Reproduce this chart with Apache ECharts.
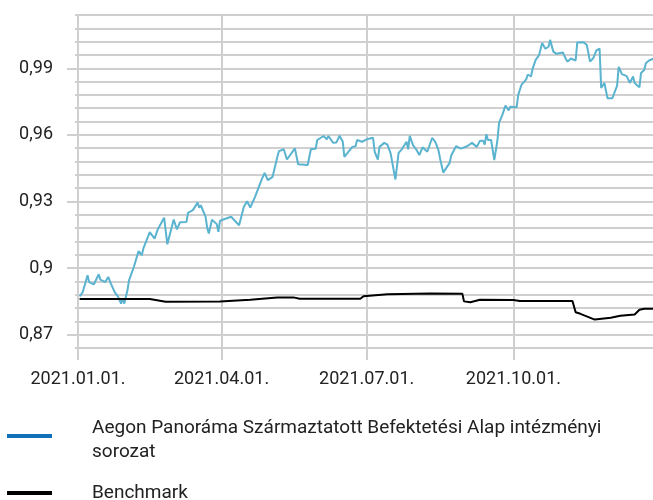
<!DOCTYPE html>
<html>
<head>
<meta charset="utf-8">
<script src="https://cdn.jsdelivr.net/npm/echarts@6/dist/echarts.min.js"></script>
<style>
html, body { margin: 0; padding: 0; background: #fff; }
#chart { width: 653px; height: 500px; }
</style>
</head>
<body>
<div id="chart"></div>
<script>
// Alap árfolyam (kék vonal)
var fundDates = [
  '2021-01-02','2021-01-04','2021-01-07','2021-01-08','2021-01-11','2021-01-14','2021-01-15','2021-01-18','2021-01-20','2021-01-21',
  '2021-01-24','2021-01-26','2021-01-28','2021-01-29','2021-01-30','2021-02-01','2021-02-02','2021-02-05','2021-02-08','2021-02-10',
  '2021-02-11','2021-02-15','2021-02-18','2021-02-20','2021-02-24','2021-02-26','2021-03-02','2021-03-04','2021-03-06','2021-03-10',
  '2021-03-11','2021-03-14','2021-03-17','2021-03-18','2021-03-19','2021-03-22','2021-03-23','2021-03-24','2021-03-26','2021-03-29',
  '2021-03-30','2021-03-31','2021-04-07','2021-04-12','2021-04-15','2021-04-17','2021-04-19','2021-04-22','2021-04-26','2021-04-28',
  '2021-04-30','2021-05-03','2021-05-06','2021-05-07','2021-05-10','2021-05-12','2021-05-17','2021-05-19','2021-05-25','2021-05-27',
  '2021-05-30','2021-05-31','2021-06-01','2021-06-04','2021-06-06','2021-06-07','2021-06-10','2021-06-12','2021-06-14','2021-06-16',
  '2021-06-17','2021-06-18','2021-06-22','2021-06-24','2021-06-25','2021-06-28','2021-07-01','2021-07-05','2021-07-06','2021-07-07',
  '2021-07-08','2021-07-09','2021-07-12','2021-07-14','2021-07-16','2021-07-19','2021-07-21','2021-07-23','2021-07-26','2021-07-27',
  '2021-07-28','2021-07-30','2021-08-01','2021-08-03','2021-08-05','2021-08-08','2021-08-11','2021-08-13','2021-08-15','2021-08-16',
  '2021-08-17','2021-08-18','2021-08-22','2021-08-23','2021-08-26','2021-08-29','2021-09-02','2021-09-05','2021-09-08','2021-09-10',
  '2021-09-12','2021-09-13','2021-09-14','2021-09-15','2021-09-17','2021-09-19','2021-09-21','2021-09-22','2021-09-24','2021-09-26',
  '2021-09-28','2021-09-29','2021-10-03','2021-10-04','2021-10-05','2021-10-06','2021-10-09','2021-10-10','2021-10-12','2021-10-13',
  '2021-10-15','2021-10-17','2021-10-19','2021-10-21','2021-10-23','2021-10-24','2021-10-26','2021-10-28','2021-10-29','2021-11-01',
  '2021-11-03','2021-11-04','2021-11-06','2021-11-07','2021-11-09','2021-11-10','2021-11-14','2021-11-16','2021-11-17','2021-11-18',
  '2021-11-20','2021-11-22','2021-11-24','2021-11-25','2021-11-27','2021-11-28','2021-11-29','2021-11-30','2021-12-02','2021-12-05',
  '2021-12-06','2021-12-08','2021-12-11','2021-12-13','2021-12-15','2021-12-16','2021-12-19','2021-12-20','2021-12-22','2021-12-23',
  '2021-12-25','2021-12-28'
];
var fundValues = [
  0.8873,0.8892,0.8968,0.8937,0.8927,0.8972,0.8948,0.8937,0.8960,0.8940,
  0.8892,0.8873,0.8840,0.8864,0.8840,0.8900,0.8945,0.9005,0.9077,0.9058,
  0.9089,0.9162,0.9133,0.9174,0.9227,0.9107,0.9219,0.9174,0.9207,0.9208,
  0.9249,0.9261,0.9295,0.9272,0.9283,0.9231,0.9181,0.9156,0.9218,0.9198,
  0.9163,0.9213,0.9231,0.9193,0.9276,0.9301,0.9273,0.9321,0.9396,0.9429,
  0.9396,0.9411,0.9501,0.9527,0.9535,0.9489,0.9539,0.9468,0.9464,0.9535,
  0.9537,0.9577,0.9569,0.9595,0.9580,0.9595,0.9564,0.9566,0.9596,0.9569,
  0.9501,0.9492,0.9546,0.9549,0.9577,0.9569,0.9580,0.9587,0.9524,0.9517,
  0.9489,0.9546,0.9564,0.9556,0.9517,0.9399,0.9519,0.9535,0.9569,0.9535,
  0.9596,0.9554,0.9535,0.9509,0.9544,0.9524,0.9586,0.9568,0.9531,0.9494,
  0.9486,0.9430,0.9474,0.9507,0.9549,0.9538,0.9549,0.9564,0.9546,0.9573,
  0.9573,0.9556,0.9603,0.9577,0.9577,0.9486,0.9577,0.9655,0.9689,0.9732,
  0.9710,0.9727,0.9725,0.9780,0.9789,0.9825,0.9850,0.9872,0.9863,0.9897,
  0.9939,0.9958,1.0014,0.9988,0.9997,1.0028,0.9975,0.9965,0.9968,0.9971,
  0.9940,0.9930,0.9944,0.9940,0.9935,1.0016,1.0017,1.0005,0.9968,0.9930,
  0.9945,0.9981,0.9989,0.9811,0.9834,0.9838,0.9765,0.9768,0.9765,0.9822,
  0.9906,0.9874,0.9865,0.9834,0.9863,0.9834,0.9814,0.9879,0.9892,0.9923,
  0.9935,0.9944
];

// Benchmark (fekete vonal)
var benchDates = [
  '2021-01-02','2021-02-15','2021-02-25','2021-03-31','2021-04-19','2021-05-06','2021-05-16','2021-05-20',
  '2021-06-27','2021-06-29','2021-07-14','2021-08-10','2021-08-30','2021-08-31','2021-09-04','2021-09-10',
  '2021-10-01','2021-10-05','2021-11-07','2021-11-09','2021-11-12','2021-11-21','2021-12-01','2021-12-07',
  '2021-12-16','2021-12-19','2021-12-22','2021-12-28'
];
var benchValues = [
  0.8861,0.8861,0.8848,0.8849,0.8857,0.8868,0.8868,0.8862,
  0.8862,0.8873,0.8882,0.8885,0.8884,0.8850,0.8846,0.8857,
  0.8856,0.8852,0.8852,0.8801,0.8794,0.8768,0.8776,0.8785,
  0.8791,0.8812,0.8817,0.8817
];

var quarterTicks = ['2021-01-01','2021-04-01','2021-07-01','2021-10-01'];
var yMajorTicks = [0.87, 0.9, 0.93, 0.96, 0.99];
var fundName = 'Aegon Panoráma Származtatott Befektetési Alap intézményi sorozat';
var benchName = 'Benchmark';

var gridColor = '#cfcfcf';
var textColor = '#222';
var fontFamily = 'Roboto';

function pad(n) { return n < 10 ? '0' + n : '' + n; }
function toTime(s) { return echarts.time.parse(s).getTime(); }

var quarterTimes = quarterTicks.map(toTime);

var myChart = echarts.init(document.getElementById('chart'));
var option = {
    animation: false,
    grid: {
        left: 78,
        right: 0,
        top: 15,
        bottom: 152
    },
    legend: [
        {
            data: [{ name: fundName, itemStyle: { color: '#1070b8' } }],
            left: 7,
            top: 416,
            padding: 0,
            // vonal a jel felső részén, hogy a kétsoros szöveg közepe alá essen
            icon: 'path://M0 0L45 0L45 4L0 4Z M0 11.9L0.1 11.9L0.1 12L0 12Z',
            symbolKeepAspect: false,
            itemWidth: 45,
            itemHeight: 12,
            selectedMode: false,
            formatter: function () { return 'Aegon Panoráma Származtatott Befektetési Alap intézményi\nsorozat'; },
            textStyle: {
                color: textColor,
                fontFamily: fontFamily,
                fontSize: 19,
                lineHeight: 24,
                padding: [0, 0, 0, 35]
            }
        },
        {
            data: [{ name: benchName, itemStyle: { color: '#000' } }],
            left: 7,
            top: 479,
            padding: 0,
            icon: 'rect',
            itemWidth: 45,
            itemHeight: 4,
            selectedMode: false,
            textStyle: {
                color: textColor,
                fontFamily: fontFamily,
                fontSize: 19,
                lineHeight: 24,
                padding: [0, 0, 4, 35]
            }
        }
    ],
    xAxis: {
        type: 'value',
        min: toTime('2021-01-01'),
        max: toTime('2021-12-27 12:00'),
        axisLine: { show: true, lineStyle: { color: gridColor, width: 2 } },
        axisTick: {
            show: true,
            customValues: quarterTimes,
            length: 12,
            lineStyle: { color: gridColor, width: 2 }
        },
        axisLabel: {
            customValues: quarterTimes,
            color: textColor,
            fontFamily: fontFamily,
            fontSize: 18,
            margin: 22,
            formatter: function (v) {
                var d = new Date(v);
                return d.getFullYear() + '.' + pad(d.getMonth() + 1) + '.' + pad(d.getDate()) + '.';
            }
        },
        splitLine: { show: true, lineStyle: { color: gridColor, width: 2 } }
    },
    yAxis: [
        {
            type: 'value',
            min: 0.864,
            max: 1.014,
            interval: 0.006,
            axisLine: { show: true, lineStyle: { color: gridColor, width: 2 } },
            axisTick: { show: true, length: 3, lineStyle: { color: gridColor, width: 2 } },
            axisLabel: { show: false },
            splitLine: { show: true, lineStyle: { color: gridColor, width: 2 } }
        },
        {
            type: 'value',
            position: 'left',
            min: 0.864,
            max: 1.014,
            axisLine: { show: false },
            axisTick: {
                show: true,
                customValues: yMajorTicks,
                length: 11,
                lineStyle: { color: gridColor, width: 2 }
            },
            axisLabel: {
                customValues: yMajorTicks,
                color: textColor,
                fontFamily: fontFamily,
                fontSize: 18,
                margin: 25,
                formatter: function (v) {
                    return String(+v.toFixed(2)).replace('.', ',');
                }
            },
            splitLine: { show: false }
        }
    ],
    series: [
        {
            name: fundName,
            type: 'line',
            yAxisIndex: 0,
            showSymbol: false,
            symbol: 'none',
            lineStyle: { color: '#5ab3cf', width: 2 },
            itemStyle: { color: '#5ab3cf' },
            data: fundDates.map(function (d, i) { return [toTime(d), fundValues[i]]; })
        },
        {
            name: benchName,
            type: 'line',
            yAxisIndex: 0,
            showSymbol: false,
            symbol: 'none',
            lineStyle: { color: '#000', width: 2 },
            itemStyle: { color: '#000' },
            data: benchDates.map(function (d, i) { return [toTime(d), benchValues[i]]; })
        }
    ]
};
myChart.setOption(option);
</script>
</body>
</html>
